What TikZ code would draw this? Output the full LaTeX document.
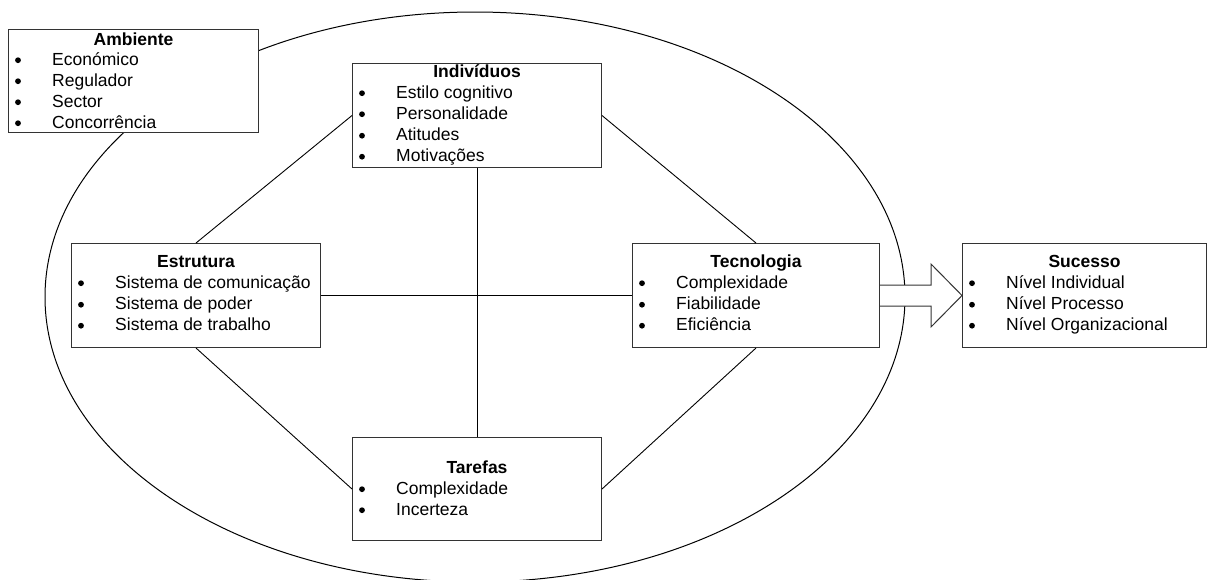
\documentclass[tikz,border=0pt]{standalone}
\usepackage{fontspec}
\setmainfont{Liberation Sans}
\usetikzlibrary{calc}

\newcommand\diagfont{\fontsize{17.5}{21}\selectfont}

\tikzset{
  panel/.style={draw=black!80, line width=1pt, fill=white, rectangle,
    inner sep=0pt, anchor=north west},
  link/.style={draw=black, line width=0.9pt},
  titletext/.style={anchor=base, inner sep=0pt, font=\diagfont\bfseries},
  itemtext/.style={anchor=base west, inner sep=0pt, font=\diagfont},
  blockarrow/.style={draw=black!80, line width=1pt, fill=white, line join=miter},
}

% bulleted line inside a panel: #1 panel, #2 row name, #3 baseline offset, #4 text
\newcommand\panelitem[4]{%
  \fill ($(#1.north west)+(10,#3-4.8)$) circle[radius=2.9];
  \node[itemtext] (#1-#2) at ($(#1.north west)+(44,#3)$) {#4};
}
\newcommand\paneltitle[3]{%
  \node[titletext] (#1-t) at ($(#1.north)+(0,#2)$) {#3};
}

\begin{document}
\begin{tikzpicture}[x=1pt, y=-1pt]
\useasboundingbox (0,0) rectangle (1209,579);

% organisation boundary
\draw[line width=1pt] (475,297) ellipse [x radius=430, y radius=285];

% panels
\node[panel, minimum width=250pt, minimum height=103pt] (amb) at (8,29) {};
\node[panel, minimum width=249pt, minimum height=104pt] (ind) at (352,63) {};
\node[panel, minimum width=249pt, minimum height=104pt] (est) at (71,243) {};
\node[panel, minimum width=247pt, minimum height=104pt] (tec) at (632,243) {};
\node[panel, minimum width=249pt, minimum height=103pt] (tar) at (352,437) {};
\node[panel, minimum width=244pt, minimum height=104pt] (suc) at (962,243) {};

% connections between the four components
\draw[link] (ind.west) -- (est.north);
\draw[link] (ind.east) -- (tec.north);
\draw[link] (tar.west) -- (est.south);
\draw[link] (tar.east) -- (tec.south);
\draw[link] (ind.south) -- (tar.north);
\draw[link] (est.east) -- (tec.west);

% block arrow towards success
\draw[blockarrow] ($(tec.east)+(0,-10.5)$) -- ($(suc.west)+(-31,-10.5)$)
  -- ($(suc.west)+(-31,-31.5)$) -- (suc.west) -- ($(suc.west)+(-31,31.5)$)
  -- ($(suc.west)+(-31,10.5)$) -- ($(tec.east)+(0,10.5)$);

% texts
\paneltitle{amb}{16}{Ambiente}
\panelitem{amb}{1}{36}{Económico}
\panelitem{amb}{2}{57}{Regulador}
\panelitem{amb}{3}{78}{Sector}
\panelitem{amb}{4}{99}{Concorrência}

\paneltitle{ind}{14}{Indivíduos}
\panelitem{ind}{1}{35}{Estilo cognitivo}
\panelitem{ind}{2}{56}{Personalidade}
\panelitem{ind}{3}{77.5}{Atitudes}
\panelitem{ind}{4}{98.5}{Motivações}

\paneltitle{est}{24}{Estrutura}
\panelitem{est}{1}{45}{Sistema de comunicação}
\panelitem{est}{2}{66.5}{Sistema de poder}
\panelitem{est}{3}{87.5}{Sistema de trabalho}

\paneltitle{tec}{24}{Tecnologia}
\panelitem{tec}{1}{45}{Complexidade}
\panelitem{tec}{2}{66.5}{Fiabilidade}
\panelitem{tec}{3}{87.5}{Eficiência}

\paneltitle{tar}{36}{Tarefas}
\panelitem{tar}{1}{57}{Complexidade}
\panelitem{tar}{2}{78}{Incerteza}

\paneltitle{suc}{24}{Sucesso}
\panelitem{suc}{1}{45}{Nível Individual}
\panelitem{suc}{2}{66.5}{Nível Processo}
\panelitem{suc}{3}{87.5}{Nível Organizacional}
\end{tikzpicture}
\end{document}
